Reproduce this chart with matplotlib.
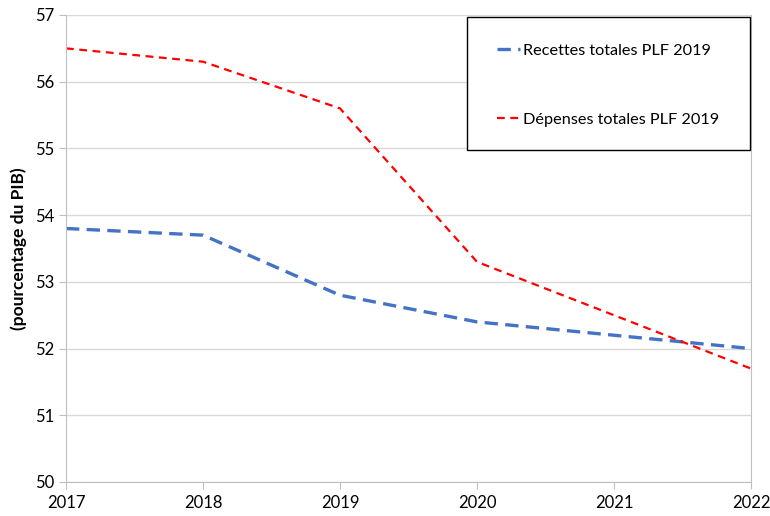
import matplotlib.pyplot as plt
from matplotlib.patches import Rectangle

years = [2017, 2018, 2019, 2020, 2021, 2022]
recettes = [53.8, 53.7, 52.8, 52.4, 52.2, 52.0]
depenses = [56.5, 56.3, 55.6, 53.3, 52.5, 51.7]
labels = ["Recettes totales PLF 2019", "Dépenses totales PLF 2019"]

plt.rcParams['font.family'] = ['Lato', 'DejaVu Sans']

fig = plt.figure(figsize=(7.7, 5.16), dpi=100)
ax = fig.add_axes([66 / 770, 1 - 482 / 516, 685 / 770, 467 / 516])

ax.plot(years, recettes, color="#4472C4", lw=2.4, dashes=(4, 2.2), label=labels[0])
ax.plot(years, depenses, color="#FF0000", lw=1.6, dashes=(3.5, 2.5), label=labels[1])

ax.set_xlim(2017, 2022)
ax.set_ylim(50, 57)
ax.set_xticks(years)
ax.set_yticks(range(50, 58))
ax.grid(axis="y", color="#d9d9d9", lw=1)
ax.set_axisbelow(True)
for side in ["left", "bottom", "right"]:
    ax.spines[side].set_color("#bfbfbf")
ax.spines["top"].set_visible(False)
ax.tick_params(axis="both", colors="#bfbfbf", labelcolor="black", labelsize=12, length=5)
ax.tick_params(axis="x", pad=4)
ax.set_ylabel("(pourcentage du PIB)", fontsize=12.5, fontweight="bold", labelpad=6)

# cadre de la légende
ax.add_patch(Rectangle(((467 - 66) / 685, (482 - 150) / 467), 283 / 685, 133 / 467,
                       transform=ax.transAxes, facecolor="white", edgecolor="black",
                       lw=1, zorder=4, clip_on=False))
leg = ax.legend(loc="upper left", bbox_to_anchor=((482 - 66) / 685, (482 - 29) / 467),
                frameon=False, fontsize=11.7, handlelength=1.45, handletextpad=0.15,
                labelspacing=3.35)
leg.set_zorder(5)

fig.savefig("out.png", dpi=100)
